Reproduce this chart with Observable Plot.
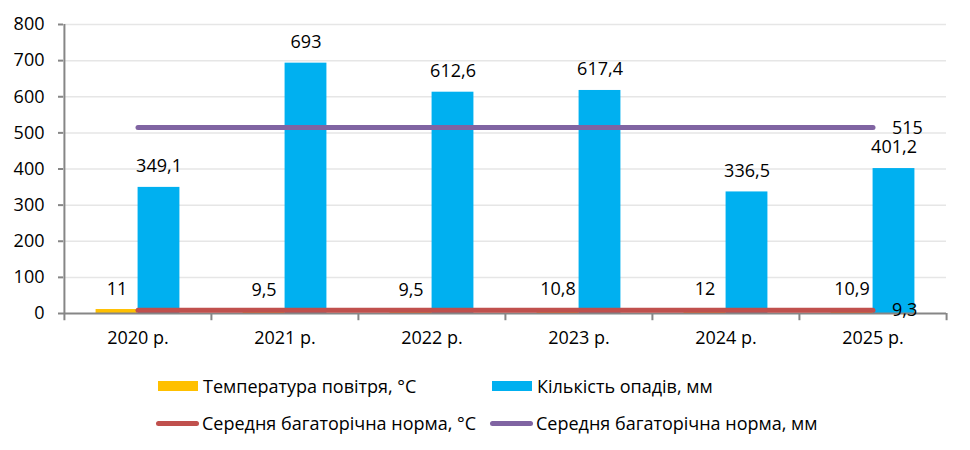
<!DOCTYPE html>
<html><head><meta charset="utf-8">
<script src="https://cdn.jsdelivr.net/npm/d3@7"></script>
<script src="https://cdn.jsdelivr.net/npm/@observablehq/plot@0.6"></script>
<style>
body{margin:0;background:#fff;font-family:"Open Sans",sans-serif;}
#wrap{position:relative;width:970px;height:450px;overflow:hidden;}
#chart{position:absolute;left:0;top:0;}
.leg{position:absolute;font-size:18px;color:#000;display:flex;align-items:center;white-space:nowrap;line-height:20px;height:20px}
.sw{width:40px;height:10px;margin-right:5px;flex:none}
.ln{width:43px;height:5px;border-radius:3px;margin-right:3px;flex:none}
</style></head><body><div id="wrap"><div id="chart"></div></div>
<script>
const years = ["2020 р.", "2021 р.", "2022 р.", "2023 р.", "2024 р.", "2025 р."];
const temperature = [11, 9.5, 9.5, 10.8, 12, 10.9];
const precipitation = [349.1, 693, 612.6, 617.4, 336.5, 401.2];
const normTemperature = 9.3;
const normPrecipitation = 515;
const yTicks = [0, 100, 200, 300, 400, 500, 600, 700, 800];
const seriesNames = ["Температура повітря, °C", "Кількість опадів, мм", "Середня багаторічна норма, °C", "Середня багаторічна норма, мм"];
const colors = ["#FFC000", "#00B0F0", "#C0504D", "#8064A2"];

const W = 970, H = 360, mL = 63, mR = 24, mT = 24, mB = 47;
const bw = (W - mL - mR) / years.length;
const barW = 42;
const inset = (bw - barW) / 2;
const fmt = v => String(v).replace(".", ",");
const axisColor = "#868686";
const fs = 18;

const tempRows = years.map((y, i) => ({year: y, value: temperature[i]}));
const precRows = years.map((y, i) => ({year: y, value: precipitation[i]}));
const normTRows = years.map(y => ({year: y, value: normTemperature}));
const normPRows = years.map(y => ({year: y, value: normPrecipitation}));
const last = years[years.length - 1];

const plot = Plot.plot({
  width: W, height: H,
  marginLeft: mL, marginRight: mR, marginTop: mT, marginBottom: mB,
  style: {fontFamily: '"Open Sans", sans-serif', fontSize: fs + "px", color: "#000", background: "#fff"},
  x: {domain: years, padding: 0, label: null},
  y: {domain: [0, 800], label: null},
  marks: [
    Plot.gridY(yTicks.slice(1), {stroke: "#e6e6e6", strokeOpacity: 1, strokeWidth: 1.5}),
    Plot.barY(tempRows, {x: "year", y: "value", fill: colors[0], insetLeft: inset, insetRight: inset, dx: -barW / 2}),
    Plot.barY(precRows, {x: "year", y: "value", fill: colors[1], insetLeft: inset, insetRight: inset, dx: barW / 2}),
    Plot.ruleY([0], {stroke: axisColor, strokeWidth: 2}),
    Plot.ruleX([years[0]], {x: d => d, dx: -bw / 2, y1: -20, y2: 800, stroke: axisColor, strokeWidth: 2}),
    Plot.ruleX(years.slice(1), {x: d => d, dx: -bw / 2, y1: -20, y2: 0, stroke: axisColor, strokeWidth: 2}),
    Plot.ruleX([last], {x: d => d, dx: bw / 2, y1: -20, y2: 0, stroke: axisColor, strokeWidth: 2}),
    Plot.lineY(normTRows, {x: "year", y: "value", stroke: colors[2], strokeWidth: 5, strokeLinecap: "round"}),
    Plot.lineY(normPRows, {x: "year", y: "value", stroke: colors[3], strokeWidth: 5, strokeLinecap: "round"}),
    Plot.text(tempRows, {x: "year", y: "value", text: d => fmt(d.value), dx: -barW / 2, dy: -20, fill: "#000", fontSize: fs}),
    Plot.text(precRows, {x: "year", y: "value", text: d => fmt(d.value), dx: barW / 2, dy: -21, fill: "#000", fontSize: fs}),
    Plot.text([normTRows[normTRows.length - 1]], {x: "year", y: "value", text: d => fmt(d.value), dx: 19, textAnchor: "start", fill: "#000", fontSize: fs}),
    Plot.text([normPRows[normPRows.length - 1]], {x: "year", y: "value", text: d => fmt(d.value), dx: 19, dy: 1, textAnchor: "start", fill: "#000", fontSize: fs}),
    Plot.axisY({ticks: yTicks, tickSize: 5, tickPadding: 14, stroke: axisColor, strokeWidth: 2, fill: "#000", fontSize: fs, label: null}),
    Plot.axisX({tickSize: 0, tickPadding: 18, fill: "#000", fontSize: fs, label: null})
  ]
});
document.getElementById("chart").appendChild(plot);

const wrap = document.getElementById("wrap");
const legendPos = [
  {left: 158, top: 376, kind: "sw"},
  {left: 492, top: 376, kind: "sw"},
  {left: 156, top: 413, kind: "ln"},
  {left: 490, top: 413, kind: "ln"}
];
seriesNames.forEach((name, i) => {
  const p = legendPos[i];
  const d = document.createElement("div");
  d.className = "leg";
  d.style.left = p.left + "px";
  d.style.top = p.top + "px";
  const s = document.createElement("span");
  s.className = p.kind;
  s.style.background = colors[i];
  const t = document.createElement("span");
  t.textContent = name;
  d.appendChild(s); d.appendChild(t);
  wrap.appendChild(d);
});
</script>
</body></html>
